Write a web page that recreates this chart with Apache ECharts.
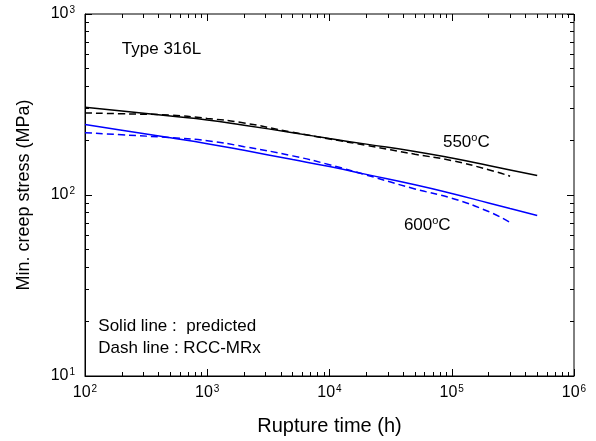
<!DOCTYPE html>
<html>
<head>
<meta charset="utf-8">
<script src="https://cdn.jsdelivr.net/npm/echarts@6/dist/echarts.min.js"></script>
<style>html,body{margin:0;padding:0;background:#fff}#c{width:596px;height:441px}</style>
</head>
<body>
<div id="c"></div>
<script>
// Rupture time (h)
const times = [100, 200, 500, 1000, 2000, 5000, 1e4, 2e4, 5e4, 1e5, 2e5, 3e5, 5e5];
const timesRcc = [100, 200, 500, 1000, 2000, 5000, 1e4, 2e4, 5e4, 1e5, 2e5, 3e5];
// Min. creep stress (MPa)
const pred550 = [305, 291, 273, 260, 243, 221, 205, 191, 174, 160, 145.5, 137.5, 128];
const rcc550  = [284, 281, 276, 265, 250, 222, 204, 188, 168, 155, 138, 127];
const pred600 = [245, 228, 207, 192, 176.5, 157, 143.5, 130, 114, 102, 90.4, 84.3, 77];
const rcc600  = [221, 215, 207.5, 199.5, 185, 164.5, 147, 129, 108, 96, 81, 70.5];
// Ticks
const xMajor = [1e2, 1e3, 1e4, 1e5, 1e6];
const yMajor = [1e1, 1e2, 1e3];
const mult = [2, 3, 4, 5, 6, 7, 8, 9];
const xMinor = [];
[1e2, 1e3, 1e4, 1e5].forEach(d => mult.forEach(m => xMinor.push(m * d)));
const yMinor = [];
[1e1, 1e2].forEach(d => mult.forEach(m => yMinor.push(m * d)));

const FONT = 'Liberation Sans, Arial, sans-serif';
const chart = echarts.init(document.getElementById('c'), null, {renderer: 'canvas'});

const pow = v => '{b|10}{s|' + Math.round(Math.log10(v)) + '}';
const rich = {
  b: {fontSize: 16, fontFamily: FONT, color: '#000', lineHeight: 18},
  s: {fontSize: 10, fontFamily: FONT, color: '#000', verticalAlign: 'top', lineHeight: 18, padding: [0, 0, 0, 1]}
};
function mkAxis(kind, pos, vals, len, labels, extra) {
  const isX = kind === 'x';
  const a = {
    type: 'log', logBase: 10,
    min: isX ? 1e2 : 1e1, max: isX ? 1e6 : 1e3,
    position: pos,
    axisLine: {show: labels, onZero: false, lineStyle: {color: '#000', width: 1}},
    axisTick: {show: true, inside: true, length: len, customValues: vals, lineStyle: {color: '#000', width: 1}},
    minorTick: {show: false},
    splitLine: {show: false},
    axisLabel: labels ? {show: true, customValues: vals, formatter: pow, rich: rich, margin: isX ? 8 : 10} : {show: false}
  };
  return Object.assign(a, extra || {});
}
const xName = {name: 'Rupture time (h)', nameLocation: 'middle', nameGap: 40,
  nameTextStyle: {fontSize: 20, fontFamily: FONT, color: '#000'}};
const yName = {name: 'Min. creep stress (MPa)', nameLocation: 'middle', nameGap: 52,
  nameTextStyle: {fontSize: 18, fontFamily: FONT, color: '#000'}};

function pairs(xs, ys) { return xs.map((x, i) => [x, ys[i]]); }
function line(data, color, dashed) {
  return {type: 'line', data: data, showSymbol: false, smooth: true, silent: true,
    xAxisIndex: 0, yAxisIndex: 0,
    lineStyle: {color: color, width: 1.5, type: dashed ? [7, 4] : 'solid'}};
}

chart.setOption({
  animation: false,
  backgroundColor: '#fff',
  grid: {left: 85, right: 22, top: 14, bottom: 64, show: true, borderColor: '#000', borderWidth: 1, backgroundColor: 'transparent'},
  xAxis: [
    mkAxis('x', 'bottom', xMajor, 7, true, xName),
    mkAxis('x', 'bottom', xMinor, 4, false),
    mkAxis('x', 'top', xMajor, 7, false),
    mkAxis('x', 'top', xMinor, 4, false)
  ],
  yAxis: [
    mkAxis('y', 'left', yMajor, 7, true, yName),
    mkAxis('y', 'left', yMinor, 4, false),
    mkAxis('y', 'right', yMajor, 7, false),
    mkAxis('y', 'right', yMinor, 4, false)
  ],
  series: [
    line(pairs(times, pred550), '#000000', false),
    line(pairs(timesRcc, rcc550), '#000000', true),
    line(pairs(times, pred600), '#0000ff', false),
    line(pairs(timesRcc, rcc600), '#0000ff', true)
  ]
});

// annotations anchored in data coordinates
const notes = [
  {t: 'Type 316L', at: [200, 637]},
  {t: '550{s|o}C', at: [8.47e4, 194.5]},
  {t: '600{s|o}C', at: [4.06e4, 67.9]},
  {t: 'Solid line :  predicted', at: [128.5, 18.9]},
  {t: 'Dash line : RCC-MRx', at: [128.5, 14.3]}
];
const noteRich = {
  s: {fontSize: 11, fontFamily: FONT, color: '#000', verticalAlign: 'top', lineHeight: 20}
};
const graphics = notes.map(n => {
  const p = chart.convertToPixel({xAxisIndex: 0, yAxisIndex: 0}, n.at);
  return {type: 'text', x: p[0], y: p[1],
    style: {text: n.t, fontSize: 17, fontFamily: FONT, fill: '#000',
      verticalAlign: 'middle', align: 'left', rich: noteRich, lineHeight: 20}};
});
chart.setOption({graphic: graphics});
</script>
</body>
</html>
